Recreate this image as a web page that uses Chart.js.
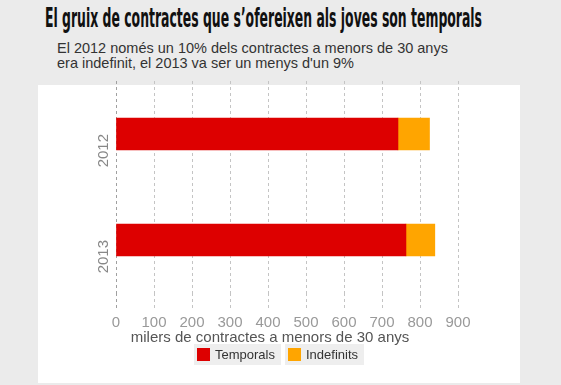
<!DOCTYPE html>
<html>
<head>
<meta charset="utf-8">
<script src="https://cdn.jsdelivr.net/npm/chart.js@4"></script>
<style>
  html, body { margin: 0; padding: 0; }
  body { width: 561px; height: 385px; background: #ebebeb; position: relative; overflow: hidden; font-family: "Liberation Sans", Arial, sans-serif; }
  #title { position: absolute; left: 45px; top: 3px; font-family: "DejaVu Sans Condensed", "Liberation Sans Narrow", sans-serif; font-weight: bold; font-size: 26px; color: #111; white-space: nowrap; transform-origin: 0 0; }
  #subtitle { position: absolute; left: 57px; top: 41px; font-size: 14.5px; line-height: 15px; color: #333; }
  #panel { position: absolute; left: 38px; top: 85px; width: 482px; height: 298px; background: #fff; }
  #wrap { position: absolute; left: 38px; top: 68px; width: 482px; height: 282px; }
  #legend { position: absolute; top: 344px; left: 194px; display: flex; gap: 4px; }
  .item { background: #eeeeee; height: 21px; display: flex; align-items: center; padding: 0 6px 0 3px; font-size: 13px; color: #333; }
  .item span.box { width: 13px; height: 13px; margin-right: 5px; display: inline-block; }
</style>
</head>
<body>
<div id="title">El gruix de contractes que s’ofereixen als joves son temporals</div>
<div id="subtitle">El 2012 només un 10% dels contractes a menors de 30 anys<br>era indefinit, el 2013 va ser un menys d'un 9%</div>
<div id="panel"></div>
<div id="wrap"><canvas id="chart"></canvas></div>
<div id="legend"></div>
<script>
const years = ['2012', '2013'];
const temporals = [742, 763];
const indefinits = [83, 76];
const xTicks = [0, 100, 200, 300, 400, 500, 600, 700, 800, 900];
const seriesNames = ['Temporals', 'Indefinits'];
const seriesColors = ['#dd0000', '#ffa500'];

// squeeze the title into the width of the original condensed face
const t = document.getElementById('title');
t.style.transform = 'scaleX(' + (437 / t.offsetWidth) + ')';

const gridColor = c => (c.tick && c.tick.value === 0) ? '#a0a0a0' : '#c4c4c4';

const ctx = document.getElementById('chart');
new Chart(ctx, {
  type: 'bar',
  data: {
    labels: years,
    datasets: [
      { label: seriesNames[0], data: temporals, backgroundColor: seriesColors[0], barThickness: 32 },
      { label: seriesNames[1], data: indefinits, backgroundColor: seriesColors[1], barThickness: 32 }
    ]
  },
  options: {
    indexAxis: 'y',
    responsive: true,
    maintainAspectRatio: false,
    animation: false,
    layout: { padding: { top: 6, right: 62, left: 44, bottom: 0 } },
    plugins: {
      legend: { display: false },
      tooltip: { enabled: false },
      title: {
        display: true,
        position: 'bottom',
        text: 'milers de contractes a menors de 30 anys',
        color: '#555555',
        font: { size: 15, family: 'Liberation Sans', weight: 'normal' },
        padding: { top: -9, bottom: 3 }
      }
    },
    scales: {
      x: {
        stacked: true,
        min: 0,
        max: 900,
        afterBuildTicks: axis => { axis.ticks = xTicks.map(v => ({ value: v })); },
        grid: { color: gridColor, tickLength: 15, tickBorderDash: [3, 3], tickColor: gridColor },
        border: { display: false, dash: [3, 3] },
        ticks: { color: '#999999', font: { size: 15, family: 'Liberation Sans' }, padding: 6 }
      },
      y: {
        stacked: true,
        grid: { display: false },
        border: { display: false },
        ticks: { color: '#888888', font: { size: 15, family: 'Liberation Sans' }, minRotation: 90, maxRotation: 90, padding: 4 }
      }
    }
  }
});

const legend = document.getElementById('legend');
seriesNames.forEach((name, i) => {
  legend.innerHTML += '<div class="item"><span class="box" style="background:' + seriesColors[i] + '"></span>' + name + '</div>';
});
</script>
</body>
</html>
